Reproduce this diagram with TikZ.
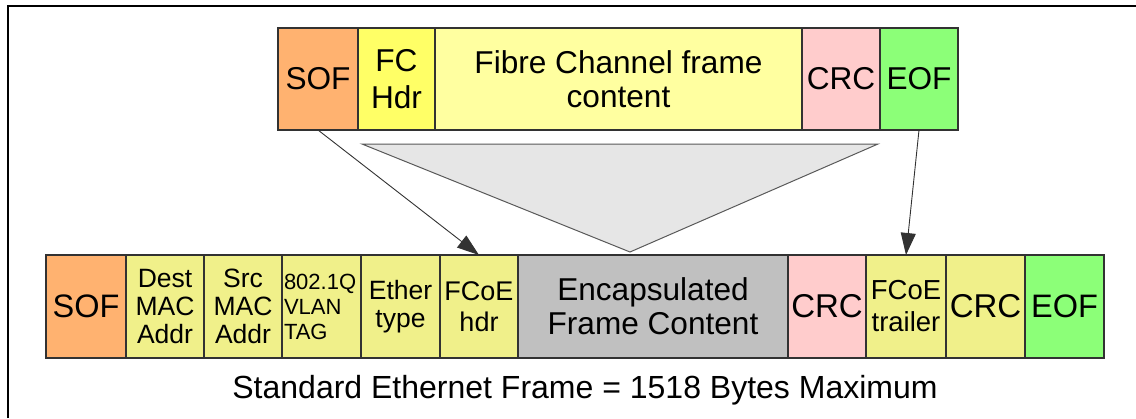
\documentclass[tikz,border=0pt]{standalone}
\usepackage{fontspec}
\setmainfont{Liberation Sans}
\usetikzlibrary{arrows.meta}
\definecolor{csof}{RGB}{255,178,112}
\definecolor{cfch}{RGB}{255,255,102}
\definecolor{cfcc}{RGB}{255,255,160}
\definecolor{ccrc}{RGB}{255,204,204}
\definecolor{ceof}{RGB}{140,255,120}
\definecolor{cyel}{RGB}{240,240,138}
\definecolor{cenc}{RGB}{192,192,192}
\definecolor{ctri}{RGB}{230,230,230}
\definecolor{cline}{RGB}{50,50,50}
\tikzset{
  cell/.style={draw=cline, line width=1.2pt, inner sep=0pt, outer sep=0pt, anchor=north west, align=center, text=black},
  toprow/.style={cell, minimum height=102pt},
  botrow/.style={cell, minimum height=103pt},
  big/.style={font=\fontsize{31.6}{34}\selectfont},
  mid/.style={font=\fontsize{26.5}{28}\selectfont},
  small/.style={font=\fontsize{22}{25}\selectfont},
  conn/.style={draw=cline, line width=0.9pt, -{Triangle[length=22pt,width=15pt]}},
}
\begin{document}
\begin{tikzpicture}[x=1pt,y=-1pt]
\useasboundingbox (0,0) rectangle (1136,418);
\draw[line width=1.5pt] (8,418) -- (8,6) -- (1136,6);
% top row
\node[toprow, big, fill=csof, minimum width=80pt] (tsof) at (278,28) {SOF};
\node[toprow, font=\fontsize{31.6}{37}\selectfont, fill=cfch, minimum width=77pt] (tfch) at (358,28) {FC\\Hdr};
\node[toprow, big, fill=cfcc, minimum width=367pt] (tfcc) at (435,28) {Fibre Channel frame\\content};
\node[toprow, big, fill=ccrc, minimum width=78pt] (tcrc) at (802,28) {CRC};
\node[toprow, big, fill=ceof, minimum width=78pt] (teof) at (880,28) {EOF};
% bottom row
\node[botrow, font=\fontsize{32.5}{34}\selectfont, fill=csof, minimum width=80pt] (bsof) at (46,255) {SOF};
\node[botrow, mid, fill=cyel, minimum width=78pt] (bdest) at (126,255) {Dest\\MAC\\Addr};
\node[botrow, mid, fill=cyel, minimum width=78pt] (bsrc) at (204,255) {Src\\MAC\\Addr};
\node[botrow, small, fill=cyel, minimum width=79pt, text width=75pt, inner xsep=2pt, align=left] (bvlan) at (282,255) {802.1Q\\VLAN\\TAG};
\node[botrow, mid, fill=cyel, minimum width=79pt] (beth) at (361,255) {Ether\\type};
\node[botrow, font=\fontsize{27}{31}\selectfont, fill=cyel, minimum width=78pt] (bfh) at (440,255) {FCoE\\hdr};
\node[botrow, big, fill=cenc, minimum width=270pt] (benc) at (518,255) {Encapsulated\\Frame Content};
\node[botrow, font=\fontsize{33}{34}\selectfont, fill=ccrc, minimum width=78pt] (bcrc1) at (788,255) {CRC};
\node[botrow, font=\fontsize{27.5}{32}\selectfont, fill=cyel, minimum width=80pt] (btr) at (866,255) {FCoE\\trailer};
\node[botrow, font=\fontsize{33}{34}\selectfont, fill=cyel, minimum width=79pt] (bcrc2) at (946,255) {CRC};
\node[botrow, font=\fontsize{32.5}{34}\selectfont, fill=ceof, minimum width=79pt] (beof) at (1025,255) {EOF};
% triangle
\coordinate (trl) at (362,144);
\coordinate (trr) at (878,144);
\coordinate (tra) at (630,252);
\draw[fill=ctri, draw=black!65, line width=1pt] (trl) -- (trr) -- (tra) -- cycle;
% arrows
\draw[conn] (tsof.south) -- (bfh.north);
\draw[conn] (teof.south) -- (btr.north);
% caption
\node[font=\fontsize{32}{34}\selectfont] (cap) at (585,390) {Standard Ethernet Frame = 1518 Bytes Maximum};
\end{tikzpicture}
\end{document}
